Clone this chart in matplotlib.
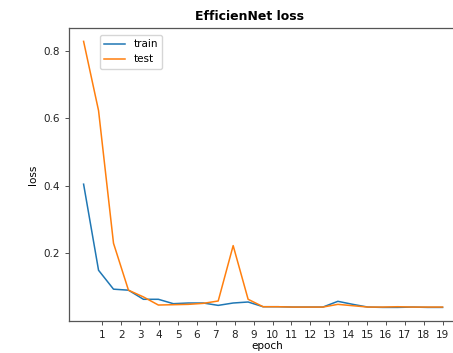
import numpy as np
import matplotlib
matplotlib.use("Agg")
import matplotlib.pyplot as plt

# loss per checkpoint (25 checkpoints spread over epochs 0..19)
train_loss = [0.405, 0.150, 0.094, 0.091, 0.064, 0.064, 0.051, 0.053, 0.053, 0.046,
              0.053, 0.056, 0.042, 0.042, 0.041, 0.041, 0.041, 0.058, 0.049, 0.041,
              0.040, 0.040, 0.041, 0.040, 0.040]
test_loss = [0.828, 0.623, 0.230, 0.091, 0.071, 0.047, 0.048, 0.049, 0.052, 0.059,
             0.223, 0.064, 0.042, 0.042, 0.041, 0.041, 0.041, 0.049, 0.045, 0.041,
             0.041, 0.042, 0.041, 0.041, 0.041]
epoch_ticks = list(range(1, 20))

x = np.linspace(0, 19, len(train_loss))

fig = plt.figure(figsize=(4.53, 3.53), dpi=100)
# right edge of the axes sits just outside the picture, as in the cropped original
ax = fig.add_axes([0.152, 0.0915, 0.875, 0.829])

ax.plot(x, train_loss, color='tab:blue', linewidth=1.1, label='train')
ax.plot(x, test_loss, color='tab:orange', linewidth=1.1, label='test')

ax.set_xlim(-0.78, 20.2)
ax.set_xticks(epoch_ticks)
ax.set_xticklabels([str(e) for e in epoch_ticks])
ax.set_yticks([0.2, 0.4, 0.6, 0.8])
ax.tick_params(labelsize=7.5, length=3, width=0.6, color='#333333', labelcolor='#222222')
for s in ax.spines.values():
    s.set_color('#555555')
    s.set_linewidth(0.9)

ax.set_xlabel('epoch', fontsize=7.5, labelpad=1)
ax.set_ylabel('loss', fontsize=7.5)
ax.set_title('EfficienNet loss', fontsize=9, fontweight='bold', x=0.455, pad=6)
ax.legend(loc='upper left', bbox_to_anchor=(0.079, 0.976), borderaxespad=0,
          fontsize=7.5, handlelength=2.0)

plt.savefig("out.png", dpi=100)
